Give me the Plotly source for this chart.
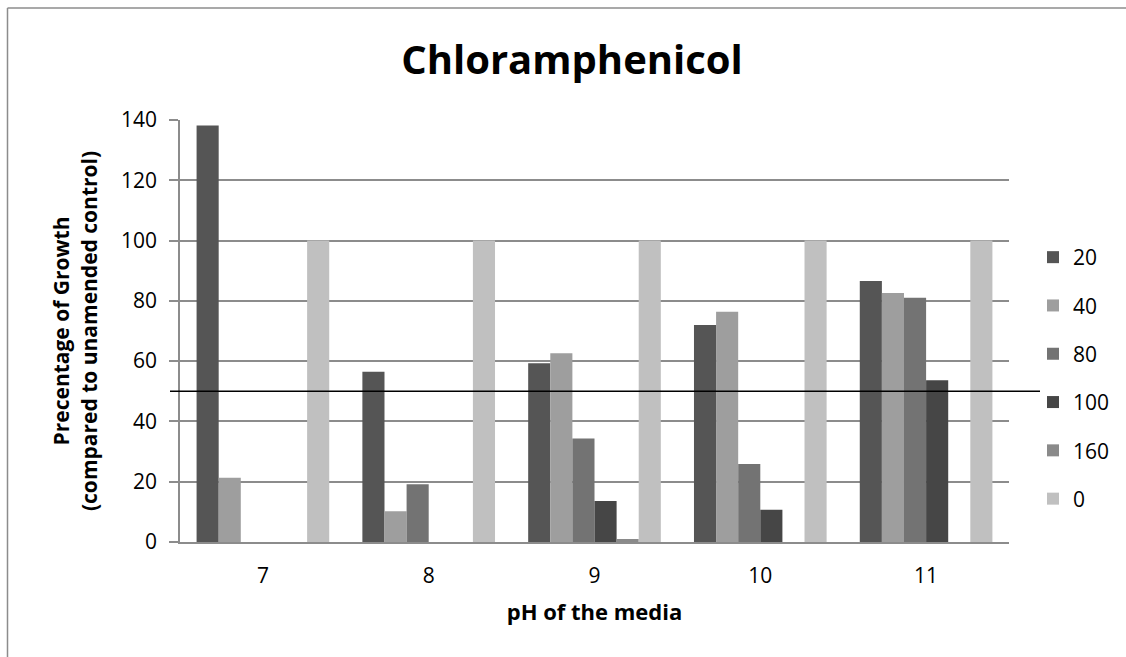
import plotly.graph_objects as go

categories = ["7", "8", "9", "10", "11"]
series_names = ["20", "40", "80", "100", "160", "0"]
s20 = [138.2, 56.5, 59.3, 72.0, 86.6]
s40 = [21.3, 10.2, 62.6, 76.4, 82.6]
s80 = [0, 19.2, 34.3, 25.9, 81.0]
s100 = [0, 0, 13.6, 10.7, 53.7]
s160 = [0, 0, 1.0, 0, 0]
s0 = [100, 100, 100, 100, 100]
series_values = [s20, s40, s80, s100, s160, s0]
colors = ["#555555", "#9e9e9e", "#737373", "#464646", "#8a8a8a", "#c0c0c0"]
threshold = 50
y_ticks = [0, 20, 40, 60, 80, 100, 120, 140]

FONT = "Open Sans"

fig = go.Figure()
for name, vals, col in zip(series_names, series_values, colors):
    fig.add_trace(go.Bar(x=categories, y=vals, name=name, marker_color=col,
                         marker_line_width=0, legendgroup=name))

W, H = 1126, 657
L, R, T, B = 180, 117, 120, 115
pw, ph = W - L - R, H - T - B

def px_to_paper_x(px):
    return (px - L) / pw

def px_to_paper_y(py):
    return (H - B - py) / ph

shapes = [
    dict(type="line", xref="paper", yref="y", x0=px_to_paper_x(170), x1=px_to_paper_x(1040),
         y0=threshold, y1=threshold, line=dict(color="black", width=1.5)),
    dict(type="line", xref="paper", yref="paper", x0=px_to_paper_x(7.5), x1=px_to_paper_x(1130),
         y0=px_to_paper_y(8), y1=px_to_paper_y(8), line=dict(color="#8c8c8c", width=1.5)),
    dict(type="line", xref="paper", yref="paper", x0=px_to_paper_x(7.5), x1=px_to_paper_x(7.5),
         y0=px_to_paper_y(8), y1=px_to_paper_y(660), line=dict(color="#8c8c8c", width=1.5)),
]

fig.update_layout(
    width=W, height=H,
    margin=dict(l=L, r=R, t=T, b=B, autoexpand=False),
    paper_bgcolor="white", plot_bgcolor="white",
    barmode="group", bargap=0.2, bargroupgap=0,
    font=dict(family=FONT, color="black", size=21),
    title=dict(text="<b>Chloramphenicol</b>", x=572 / W, xanchor="center", xref="container",
               y=1 - 60 / H, yanchor="middle", yref="container",
               font=dict(family=FONT, size=40, color="black")),
    xaxis=dict(showgrid=False, showline=True, linecolor="#8c8c8c", linewidth=2,
               ticks="", tickfont=dict(size=21), ticklabelstandoff=14,
               title=dict(text="<b>pH of the media</b>", font=dict(size=22), standoff=16)),
    yaxis=dict(range=[0, 140], tickvals=y_ticks, showgrid=True, gridcolor="#8c8c8c", gridwidth=1.5,
               showline=True, linecolor="#8c8c8c", linewidth=1.5, ticks="outside", ticklen=9,
               tickcolor="#8c8c8c", tickwidth=1.5, tickfont=dict(size=21), ticklabelstandoff=8,
               zeroline=False,
               title=dict(text="<b>Precentage of Growth<br>(compared to unamended control)</b>",
                          font=dict(size=21), standoff=18)),
    legend=dict(x=px_to_paper_x(1033), xanchor="left", y=px_to_paper_y(237), yanchor="top",
                traceorder="grouped", tracegroupgap=18, font=dict(size=21),
                itemwidth=30, bgcolor="rgba(0,0,0,0)"),
    shapes=shapes,
)

fig.write_html("out.html")
